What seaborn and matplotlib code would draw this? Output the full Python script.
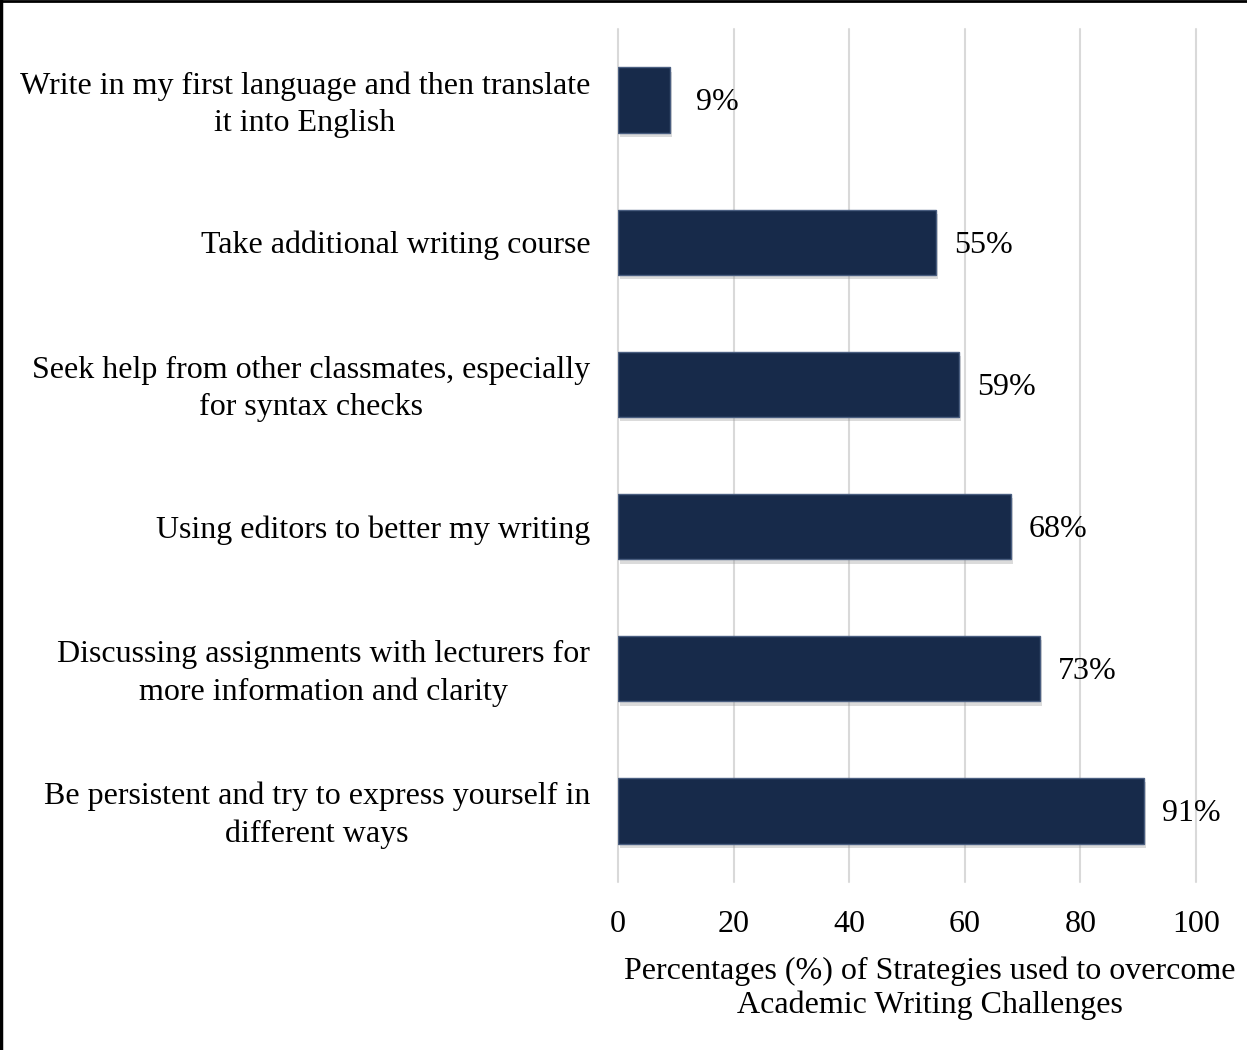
import matplotlib
matplotlib.use("Agg")
import matplotlib.pyplot as plt
import matplotlib.transforms as mtransforms
import seaborn as sns
import pandas as pd
from matplotlib.lines import Line2D

categories = [
    "Write in my first language and then translate\nit into English",
    "Take additional writing course",
    "Seek help from other classmates, especially\nfor syntax checks",
    "Using editors to better my writing",
    "Discussing assignments with lecturers for\nmore information and clarity",
    "Be persistent and try to express yourself in\ndifferent ways",
]
values = [9, 55, 59, 68, 73, 91]
value_labels = ["9%", "55%", "59%", "68%", "73%", "91%"]
x_ticks = [0, 20, 40, 60, 80, 100]
x_label = "Percentages (%) of Strategies used to overcome\nAcademic Writing Challenges"

df = pd.DataFrame({"category": categories, "value": values})

sns.set_theme(style="white")
plt.rcParams["font.family"] = ["Liberation Serif", "DejaVu Serif"]
plt.rcParams["text.color"] = "black"
plt.rcParams["xtick.color"] = "black"
plt.rcParams["ytick.color"] = "black"
plt.rcParams["axes.labelcolor"] = "black"

FS = 23

fig = plt.figure(figsize=(12.47, 10.5), dpi=100)
ax = fig.add_axes([618 / 1247, 0.16, (1196 - 618) / 1247, 0.9724 - 0.16])

bar_color = "#172A4A"
sns.barplot(data=df, x="value", y="category", orient="h", color=bar_color,
            width=0.46, edgecolor="#4A5E80", linewidth=1.0, saturation=1,
            ax=ax, zorder=3)

# soft shadow
for p in list(ax.patches):
    x0, y0 = p.get_x(), p.get_y()
    w, h = p.get_width(), p.get_height()
    sh = plt.Rectangle((x0 + 0.4, y0 + 0.03), w, h, color="#999999", alpha=0.35,
                       zorder=2, linewidth=0)
    ax.add_patch(sh)

ax.set_xlim(0, 100)
ax.set_xticks(x_ticks)
ax.set_xticklabels([str(t) for t in x_ticks], fontsize=FS)
ax.xaxis.grid(True, color="#D9D9D9", linewidth=1.5, zorder=0)
for gl in ax.xaxis.get_gridlines():
    gl.set_clip_on(False)
ax.yaxis.grid(False)
ax.set_ylabel("")
ax.set_xlabel(x_label, fontsize=FS, linespacing=1.22)
ax.xaxis.set_label_coords(0.54, -0.087)
ax.xaxis.label.set_va("top")
ax.tick_params(axis="y", length=0, pad=20, labelsize=FS)
ax.tick_params(axis="x", length=0, pad=20)
shift_up = mtransforms.ScaledTranslation(0, 3 / 100, fig.dpi_scale_trans)
for lbl in ax.get_yticklabels():
    lbl.set_linespacing(1.38)
    lbl.set_multialignment("center")
    if "\n" in lbl.get_text():
        lbl.set_transform(lbl.get_transform() + shift_up)
for s in ax.spines.values():
    s.set_visible(False)

for i, (v, t) in enumerate(zip(values, value_labels)):
    ax.annotate(t, xy=(v, i), xytext=(34, -2), textcoords="offset points",
                ha="center", va="center", fontsize=FS, color="black")

# figure border (top and left)
fig.add_artist(Line2D([0, 1], [0.999, 0.999], transform=fig.transFigure, color="black", linewidth=2))
fig.add_artist(Line2D([0.0012, 0.0012], [0, 1], transform=fig.transFigure, color="black", linewidth=2.5))

fig.savefig("out.png", dpi=100, facecolor="white")
